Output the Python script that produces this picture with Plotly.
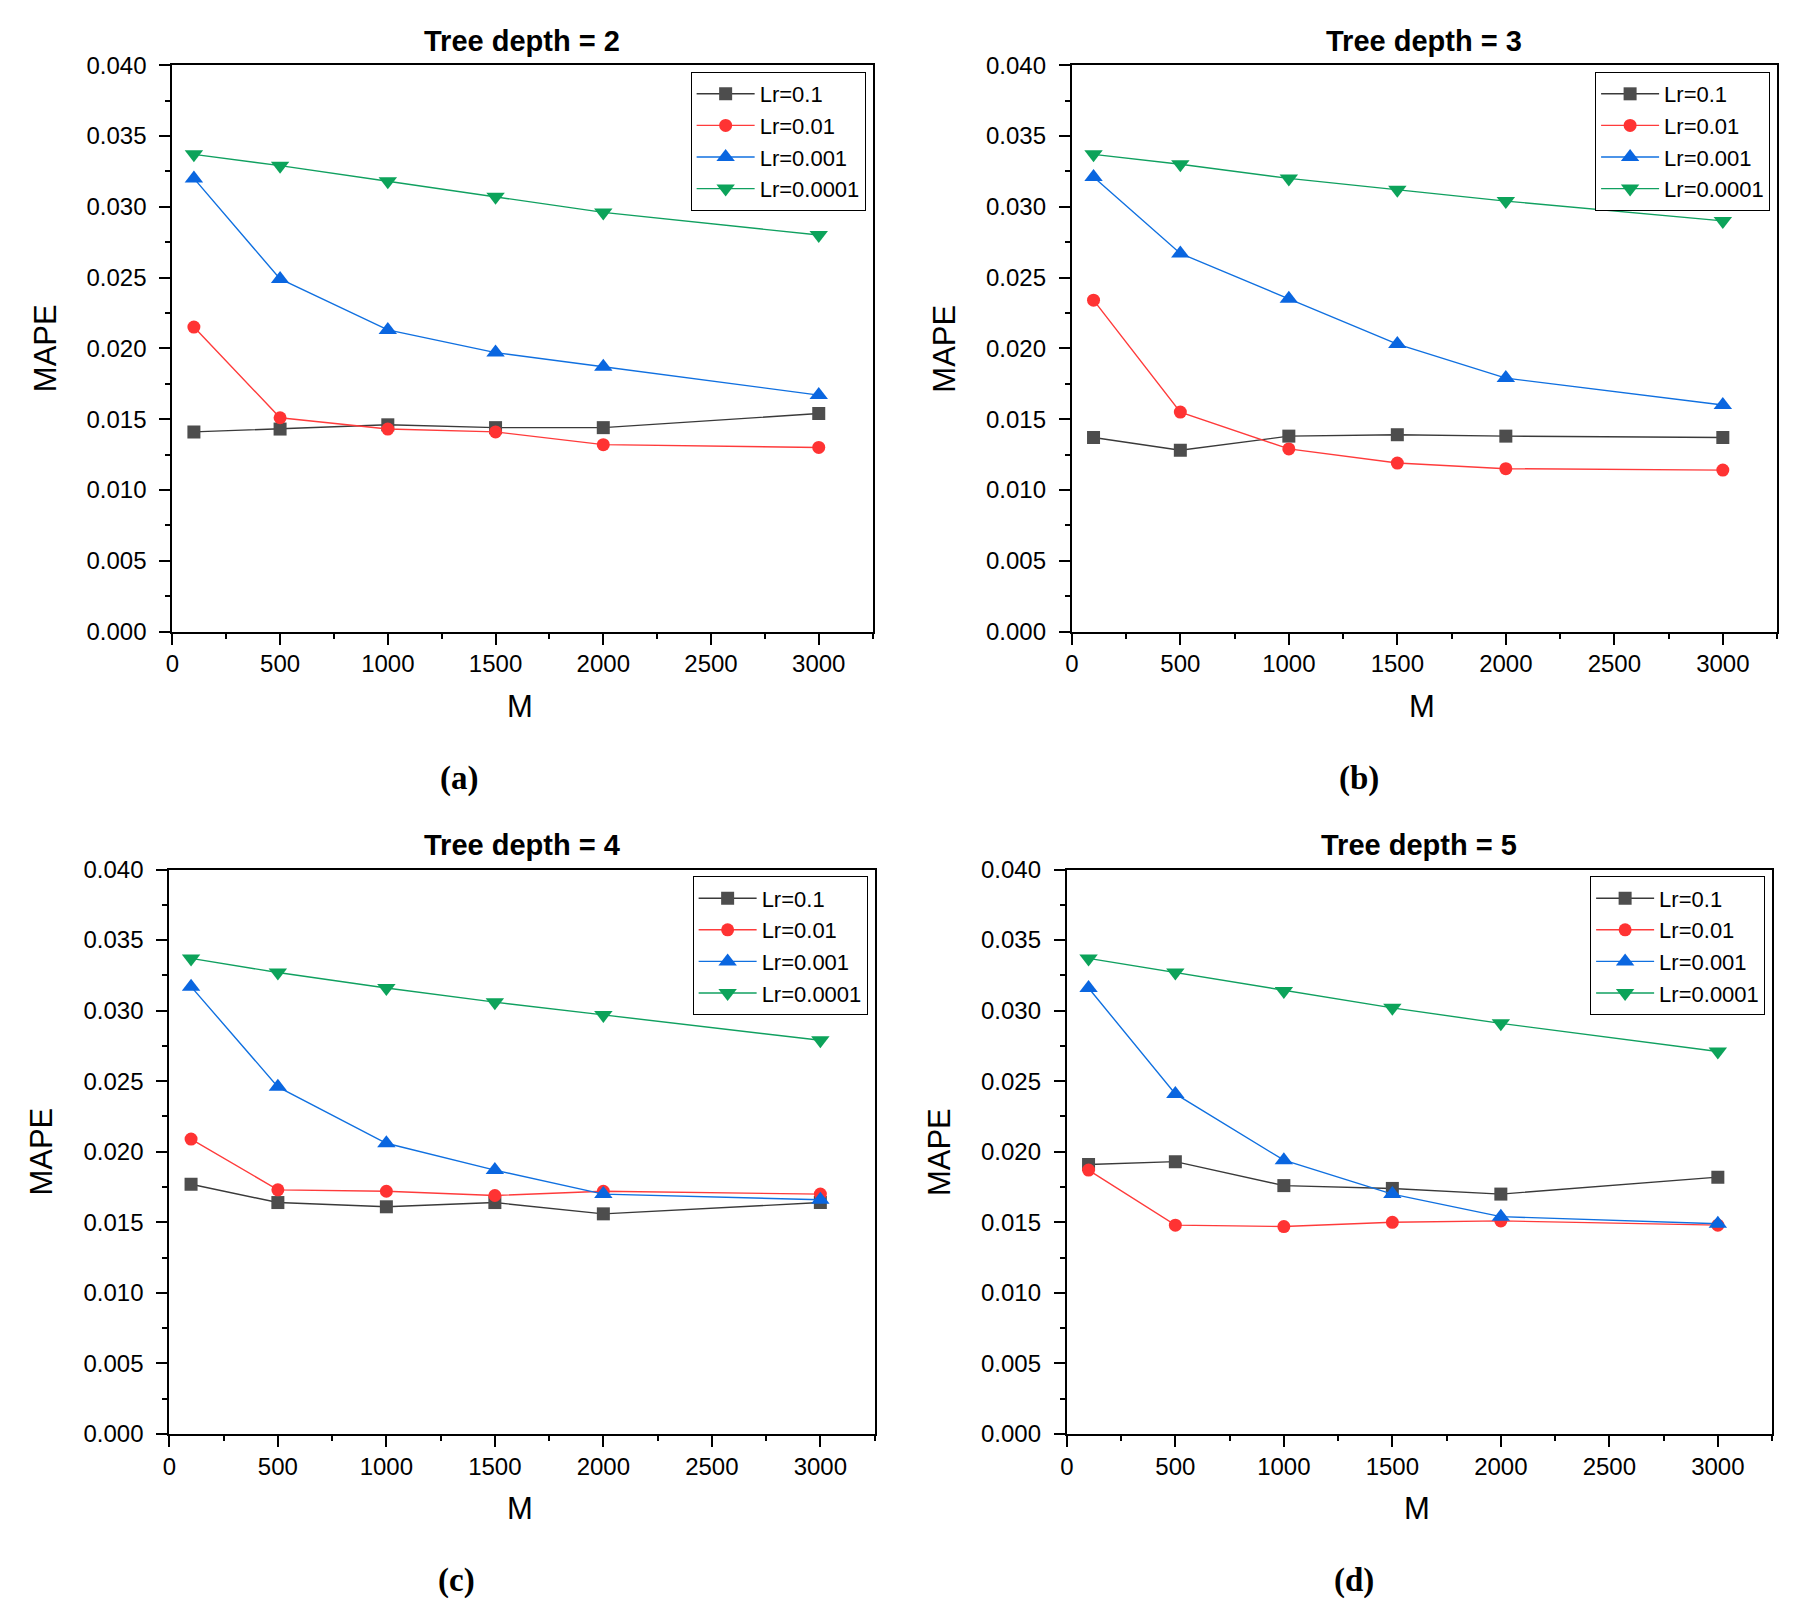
import plotly.graph_objects as go

# ---------------- data ----------------
M = [100, 500, 1000, 1500, 2000, 3000]
lr_labels = ["Lr=0.1", "Lr=0.01", "Lr=0.001", "Lr=0.0001"]
panel_titles = ["Tree depth = 2", "Tree depth = 3", "Tree depth = 4", "Tree depth = 5"]
panel_tags = ["(a)", "(b)", "(c)", "(d)"]

# Tree depth = 2
d2_lr_0_1 = [0.0141, 0.0143, 0.0146, 0.0144, 0.0144, 0.0154]
d2_lr_0_01 = [0.0215, 0.0151, 0.0143, 0.0141, 0.0132, 0.0130]
d2_lr_0_001 = [0.0320, 0.0249, 0.0213, 0.0197, 0.0187, 0.0167]
d2_lr_0_0001 = [0.0337, 0.0329, 0.0318, 0.0307, 0.0296, 0.0280]

# Tree depth = 3
d3_lr_0_1 = [0.0137, 0.0128, 0.0138, 0.0139, 0.0138, 0.0137]
d3_lr_0_01 = [0.0234, 0.0155, 0.0129, 0.0119, 0.0115, 0.0114]
d3_lr_0_001 = [0.0321, 0.0267, 0.0235, 0.0203, 0.0179, 0.0160]
d3_lr_0_0001 = [0.0337, 0.0330, 0.0320, 0.0312, 0.0304, 0.0290]

# Tree depth = 4
d4_lr_0_1 = [0.0177, 0.0164, 0.0161, 0.0164, 0.0156, 0.0164]
d4_lr_0_01 = [0.0209, 0.0173, 0.0172, 0.0169, 0.0172, 0.0170]
d4_lr_0_001 = [0.0317, 0.0246, 0.0206, 0.0187, 0.0170, 0.0166]
d4_lr_0_0001 = [0.0337, 0.0327, 0.0316, 0.0306, 0.0297, 0.0279]

# Tree depth = 5
d5_lr_0_1 = [0.0191, 0.0193, 0.0176, 0.0174, 0.0170, 0.0182]
d5_lr_0_01 = [0.0187, 0.0148, 0.0147, 0.0150, 0.0151, 0.0148]
d5_lr_0_001 = [0.0316, 0.0241, 0.0194, 0.0170, 0.0154, 0.0149]
d5_lr_0_0001 = [0.0337, 0.0327, 0.0314, 0.0302, 0.0291, 0.0271]

panel_data = [
    [d2_lr_0_1, d2_lr_0_01, d2_lr_0_001, d2_lr_0_0001],
    [d3_lr_0_1, d3_lr_0_01, d3_lr_0_001, d3_lr_0_0001],
    [d4_lr_0_1, d4_lr_0_01, d4_lr_0_001, d4_lr_0_0001],
    [d5_lr_0_1, d5_lr_0_01, d5_lr_0_001, d5_lr_0_0001],
]

# ---------------- style ----------------
W, H = 1796, 1623
line_colors = ["#3a3a3a", "#ff3b3b", "#1070e0", "#10a060"]
marker_colors = ["#4d4d4d", "#ff3333", "#0a66e0", "#0ca35a"]
symbols = ["square", "circle", "triangle-up", "triangle-down"]
msizes = [13, 13, 16, 16]
SANS = "Liberation Sans, Arial, sans-serif"
SERIF = "Liberation Serif, Times New Roman, serif"

# panel boxes in pixels: left, right, top, bottom
boxes = [
    (166, 869, 52, 628),
    (1069, 1777, 52, 628),
    (163, 871, 870, 1444),
    (1064, 1772, 870, 1444),
]

def px(x):
    return x / W

def py(y):
    return 1 - y / H

fig = go.Figure()
annotations = []
layout = dict(
    width=W, height=H,
    margin=dict(l=0, r=0, t=0, b=0),
    paper_bgcolor="white", plot_bgcolor="white",
    showlegend=True,
)

for i, (L, R, T, B) in enumerate(boxes):
    k = "" if i == 0 else str(i + 1)
    xa, ya = "x" + k, "y" + k
    lg = "legend" + k
    for j in range(4):
        fig.add_trace(go.Scatter(
            x=M, y=panel_data[i][j], mode="lines+markers",
            name=lr_labels[j],
            line=dict(color=line_colors[j], width=1.4),
            marker=dict(symbol=symbols[j], size=msizes[j], color=marker_colors[j],
                        line=dict(width=0)),
            xaxis=xa, yaxis=ya, legend=lg,
        ))
    axis_common = dict(
        showgrid=False, zeroline=False, showline=True, linecolor="black",
        linewidth=2, mirror=True, ticks="outside", ticklen=11, tickwidth=2,
        tickcolor="black", tickfont=dict(family=SANS, size=24, color="black"),
    )
    layout["xaxis" + k] = dict(
        axis_common, domain=[px(L), px(R)], anchor=ya, range=[0, 3250],
        tick0=0, dtick=500, ticklabelstandoff=-1,
        minor=dict(ticks="outside", ticklen=5, tickwidth=2, tickcolor="black",
                   dtick=250, tick0=0, showgrid=False),
    )
    layout["yaxis" + k] = dict(
        axis_common, domain=[py(B), py(T)], anchor=xa, range=[0, 0.040],
        tick0=0, dtick=0.005, tickformat=".3f", ticklabelstandoff=8,
        minor=dict(ticks="outside", ticklen=5, tickwidth=2, tickcolor="black",
                   dtick=0.0025, tick0=0, showgrid=False),
    )
    layout[lg] = dict(
        x=px(R - 7), y=py(T + 7), xanchor="right", yanchor="top",
        bgcolor="white", bordercolor="black", borderwidth=1,
        font=dict(family=SANS, size=22, color="black"),
        itemwidth=58, tracegroupgap=0,
    )
    cx = (L + R) / 2
    annotations.append(dict(
        text="<b>" + panel_titles[i] + "</b>", x=px(cx), y=py(T - 25),
        xref="paper", yref="paper", showarrow=False, xanchor="center", yanchor="middle",
        font=dict(family=SANS, size=29, color="black"),
    ))
    annotations.append(dict(
        text="M", x=px(cx - 2), y=py(B + 76),
        xref="paper", yref="paper", showarrow=False, xanchor="center", yanchor="middle",
        font=dict(family=SANS, size=31, color="black"),
    ))
    annotations.append(dict(
        text="MAPE", x=px(L - 128), y=py((T + B) / 2), textangle=-90,
        xref="paper", yref="paper", showarrow=False, xanchor="center", yanchor="middle",
        font=dict(family=SANS, size=31, color="black"),
    ))
    annotations.append(dict(
        text="<b>" + panel_tags[i] + "</b>", x=px(L + 288), y=py(B + 149),
        xref="paper", yref="paper", showarrow=False, xanchor="center", yanchor="middle",
        font=dict(family=SERIF, size=33, color="black"),
    ))

layout["annotations"] = annotations
fig.update_layout(**layout)

fig.write_html("out.html", config={"displayModeBar": False},
               post_script="document.body.style.margin='0';document.body.style.overflow='hidden';")
